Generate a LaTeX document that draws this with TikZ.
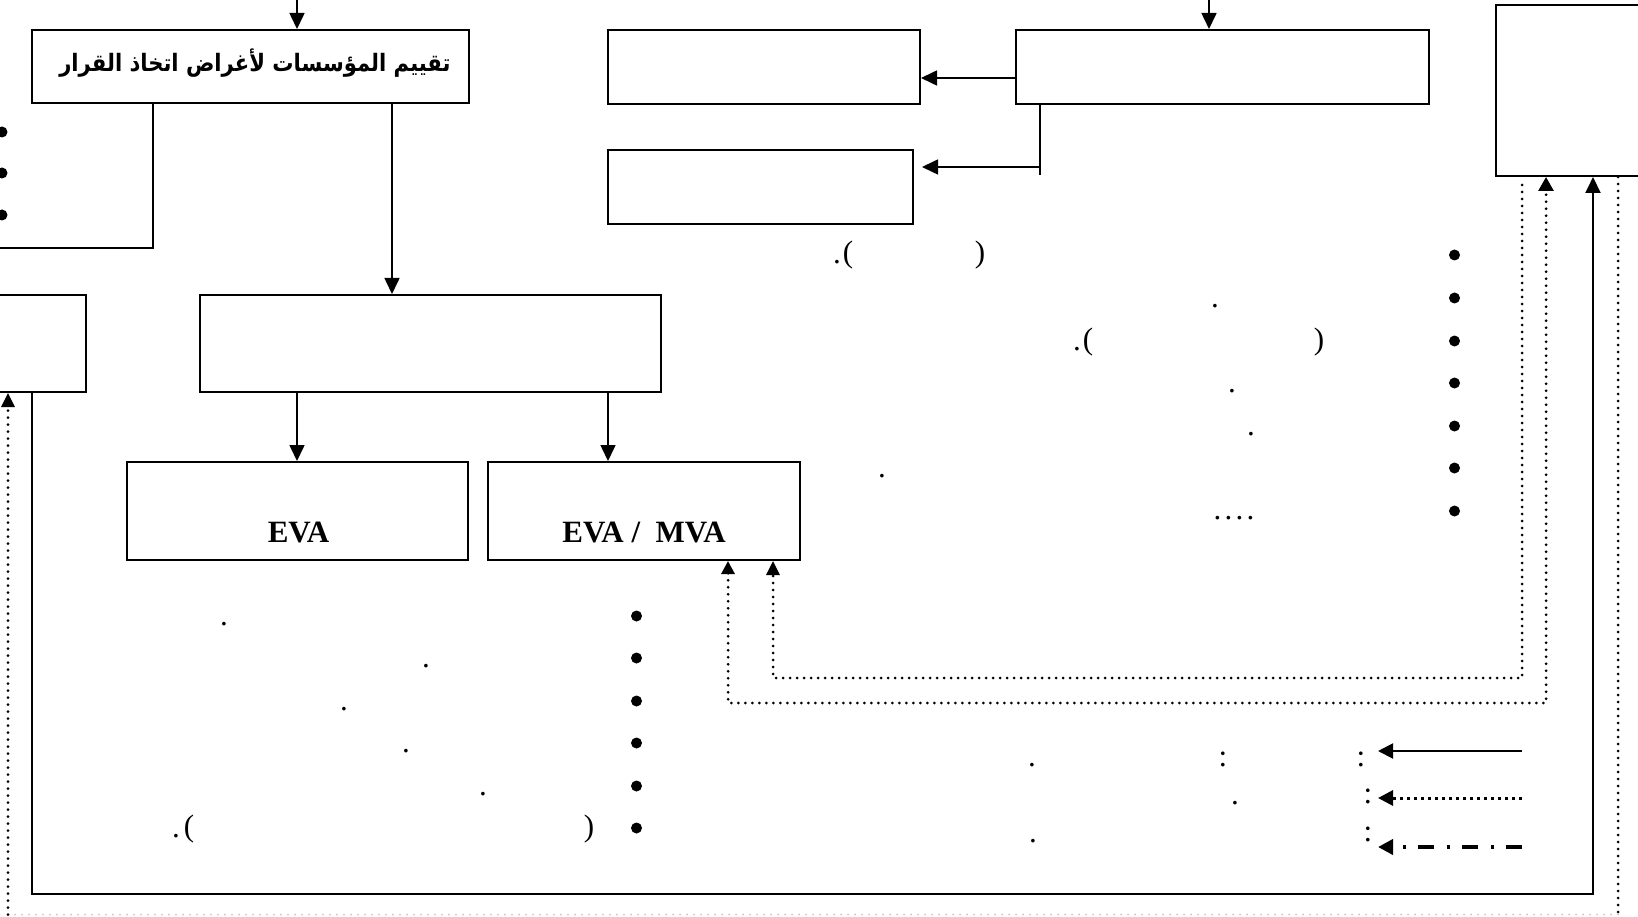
\documentclass[tikz,border=0pt]{standalone}
\usepackage{fontspec}
\setmainfont{Liberation Serif}
\newfontfamily\arabicfont[Script=Arabic]{DejaVu Sans}
\TeXXeTstate=1
\usetikzlibrary{arrows.meta}
\begin{document}
\begin{tikzpicture}[x=1pt,y=-1pt,
  box/.style={draw,line width=2pt,inner sep=0pt},
  conn/.style={line width=1.6pt},
  arr/.style={conn,-{Triangle[length=16pt,width=15pt]}},
  dotl/.style={line width=3pt,dash pattern=on 0pt off 7pt,line cap=round},
  darr/.style={dotl,-{Triangle[length=14pt,width=13pt]}},
  punct/.style={font=\fontsize{31}{31}\selectfont,inner sep=0pt,anchor=base},
  evalbl/.style={font=\bfseries\fontsize{31}{31}\selectfont,inner sep=0pt,anchor=base},
  bul/.style={circle,fill,inner sep=0pt,minimum size=11pt}
]
\useasboundingbox (0,0) rectangle (1638,917);
\clip (0,0) rectangle (1638,917);
\fill[white] (0,0) rectangle (1638,917);

% boxes
\node[box,minimum width=437pt,minimum height=73pt] (A) at (250.5,66.5) {};
\node[font=\arabicfont\bfseries\fontsize{24}{24}\selectfont,anchor=base,inner sep=0pt] (At) at (255,72) {\scalebox{0.88}[1]{\beginR تقييم المؤسسات لأغراض اتخاذ القرار\endR}};
\node[box,minimum width=312pt,minimum height=74pt] (B) at (764,67) {};
\node[box,minimum width=305pt,minimum height=74pt] (C) at (760.5,187) {};
\node[box,minimum width=413pt,minimum height=74pt] (D) at (1222.5,67) {};
\node[box,minimum width=164pt,minimum height=171pt] (E) at (1578,90.5) {};
\node[box,minimum width=461pt,minimum height=97pt] (F) at (430.5,343.5) {};
\node[box,minimum width=126pt,minimum height=97pt] (G) at (23,343.5) {};
\node[box,minimum width=341pt,minimum height=98pt] (H) at (297.5,511) {};
\node[box,minimum width=312pt,minimum height=98pt] (I) at (644,511) {};
\node[evalbl] (Ht) at (298.5,542) {EVA};
\node[evalbl] (It) at (644,542) {EVA /\ \ MVA};

% solid connectors
\coordinate (tA) at (297,0);
\draw[arr] (tA) -- (tA |- A.north);
\coordinate (tD) at (1209,0);
\draw[arr] (tD) -- (tD |- D.north);
\coordinate (yDB) at (0,78);
\draw[arr] (D.west |- yDB) -- (B.east |- yDB);
\coordinate (xDC) at (1040,175);
\draw[conn] (xDC |- D.south) -- (xDC);
\coordinate (yDC) at (1040,167);
\draw[arr,shorten >=8pt] (yDC) -- (C.east |- yDC);
\coordinate (xAF) at (392,0);
\draw[arr] (xAF |- A.south) -- (xAF |- F.north);
\coordinate (xAL) at (153,248);
\coordinate (AL) at (-5,248);
\draw[conn] (xAL |- A.south) -- (xAL) -- (AL);
\coordinate (xFH) at (297,0);
\draw[arr] (xFH |- F.south) -- (xFH |- H.north);
\coordinate (xFI) at (608,0);
\draw[arr] (xFI |- F.south) -- (xFI |- I.north);
\coordinate (gs) at (32,894);
\coordinate (es) at (1593,894);
\draw[line width=2pt,-{Triangle[length=16pt,width=15pt]}] (gs |- G.south) -- (gs) -- (es) -- (es |- E.south);

% dotted connectors
\coordinate (r1) at (1618,914.5);
\coordinate (l1) at (8,914.5);
\draw[dotl] (r1 |- E.south) -- (r1);
\draw[dotl,gray!45,line width=2pt] (r1) -- (l1);
\draw[darr] (l1) -- (l1 |- G.south);
\coordinate (p1a) at (728,703);
\coordinate (p1b) at (1546,703);
\draw[dotl,{Triangle[length=13pt,width=13pt]}-{Triangle[length=14pt,width=15pt]}] (p1a |- I.south) -- (p1a) -- (p1b) -- (p1b |- E.south);
\coordinate (p2s) at (1522,185);
\coordinate (p2b) at (1522,678);
\coordinate (p2a) at (773,678);
\draw[darr] (p2s) -- (p2b) -- (p2a) -- (p2a |- I.south);

% legend
\coordinate (lgA1) at (1522,751); \coordinate (lgA2) at (1378,751);
\draw[line width=2pt,-{Triangle[length=15pt,width=15pt]}] (lgA1) -- (lgA2);
\coordinate (lgB1) at (1522,798); \coordinate (lgB2) at (1378,798);
\draw[line width=3pt,dash pattern=on 3pt off 4pt,-{Triangle[length=15pt,width=15pt]}] (lgB1) -- (lgB2);
\coordinate (lgC1) at (1522,847); \coordinate (lgC2) at (1378,847);
\draw[line width=4pt,dash pattern=on 16pt off 12pt on 3pt off 13pt,-{Triangle[length=15pt,width=15pt]}] (lgC1) -- (lgC2);

% bullets
\foreach \y [count=\i] in {255,298,341,383,426,468,511} \node[bul] (br\i) at (1454.5,\y) {};
\foreach \y [count=\i] in {616,658,701,743,786,828} \node[bul] (bm\i) at (636.5,\y) {};
\foreach \y [count=\i] in {132,173,215} \node[bul] (bl\i) at (2,\y) {};

% punctuation remnants
\node[punct] (q1) at (837,264) {.};
\node[punct] (q2) at (848,263) {(};
\node[punct] (q3) at (980,263) {)};
\node[punct] (q4) at (1215,307) {.};
\node[punct] (q5) at (1077,350) {.};
\node[punct] (q6) at (1088,349) {(};
\node[punct] (q7) at (1319,349) {)};
\node[punct] (q8) at (1232,392) {.};
\node[punct] (q9) at (1251,435) {.};
\node[punct] (q10) at (882,477) {.};
\node[punct] (q11) at (1234,519) {.\kern3.3pt.\kern3.3pt.\kern3.3pt.};

\node[punct] (s1) at (224,625) {.};
\node[punct] (s2) at (426,667) {.};
\node[punct] (s3) at (344,710) {.};
\node[punct] (s4) at (406,752) {.};
\node[punct] (s5) at (483,795) {.};
\node[punct] (s6) at (176,837) {.};
\node[punct] (s7) at (189,836.5) {(};
\node[punct] (s8) at (589,836.5) {)};

\node[punct] (u1) at (1223,766) {:};
\node[punct] (u2) at (1032,766) {.};
\node[punct] (u3) at (1235,804) {.};
\node[punct] (u4) at (1033,842) {.};
\node[punct] (u5) at (1361,766) {:};
\node[punct] (u6) at (1368,803) {:};
\node[punct] (u7) at (1368,841) {:};
\end{tikzpicture}
\end{document}
